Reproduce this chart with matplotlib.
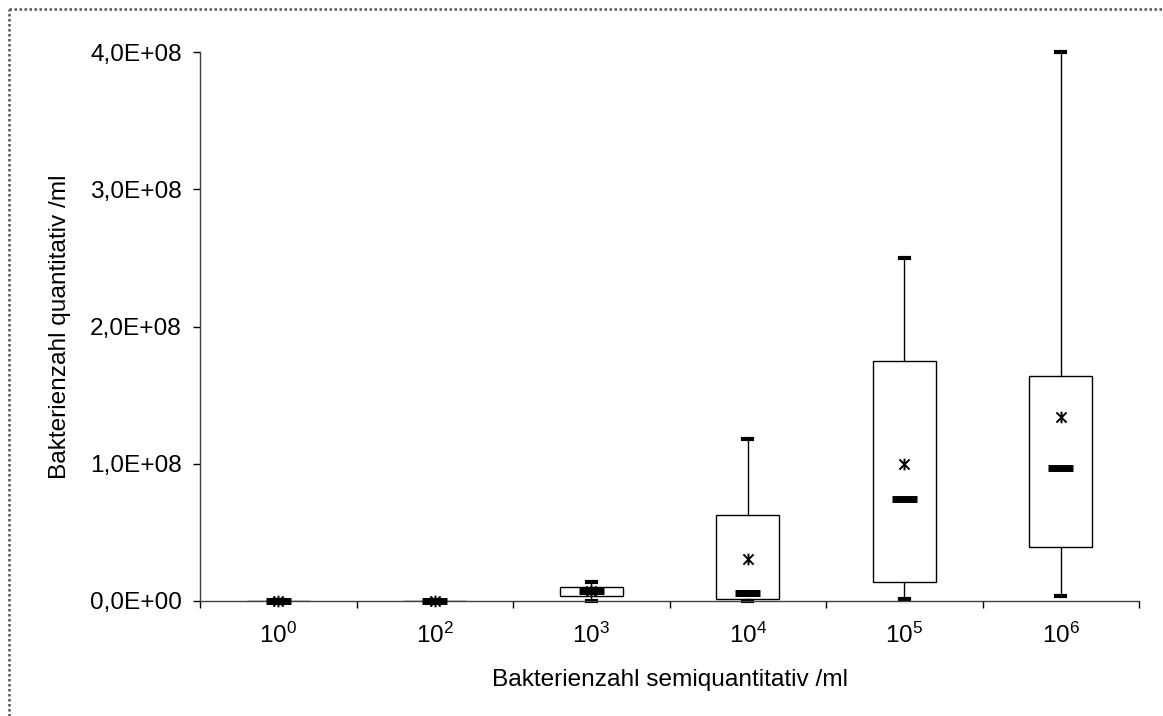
import matplotlib
matplotlib.use("Agg")
import matplotlib.pyplot as plt
from matplotlib.lines import Line2D
from matplotlib.path import Path
from matplotlib.ticker import FuncFormatter, FixedLocator

plt.rcParams["font.family"] = ["Liberation Sans", "DejaVu Sans"]
plt.rcParams["mathtext.fontset"] = "custom"
plt.rcParams["mathtext.rm"] = "Liberation Sans"
plt.rcParams["mathtext.it"] = "Liberation Sans:italic"

# data (Bakterien /ml)
exponents = [0, 2, 3, 4, 5, 6]
whisk_lo = [0, 0, 0, 0, 1.5e6, 3.6e6]
q1 = [0, 0, 3.6e6, 1.5e6, 1.4e7, 3.9e7]
median = [0, 0, 7.3e6, 5.5e6, 7.4e7, 9.7e7]
q3 = [2e5, 2e5, 1.0e7, 6.3e7, 1.75e8, 1.64e8]
whisk_hi = [4e5, 4e5, 1.38e7, 1.18e8, 2.5e8, 4.0e8]
mean = [1e5, 1e5, 7e6, 3.06e7, 1.0e8, 1.34e8]

FS = 17.6

# Excel-like star marker: x plus a short vertical stroke
star = Path(
    [(0, -0.8), (0, 0.8), (-0.7, -0.7), (0.7, 0.7), (-0.7, 0.7), (0.7, -0.7)],
    [Path.MOVETO, Path.LINETO] * 3,
)

fig = plt.figure(figsize=(11.63, 7.16), dpi=100)
ax = fig.add_axes([200 / 1163, 1 - 601 / 716, 939 / 1163, 549 / 716])

positions = list(range(1, len(exponents) + 1))
stats = [
    dict(whislo=a, q1=b, med=c, q3=d, whishi=e, mean=m, fliers=[])
    for a, b, c, d, e, m in zip(whisk_lo, q1, median, q3, whisk_hi, mean)
]

ax.bxp(
    stats, positions=positions, widths=0.4, showmeans=False, showfliers=False,
    patch_artist=True, capwidths=0.06,
    boxprops=dict(facecolor="white", edgecolor="black", linewidth=1.0),
    whiskerprops=dict(color="black", linewidth=1.0),
    capprops=dict(color="black", linewidth=3.0, clip_on=False),
    medianprops=dict(linewidth=0),
)

# thick median bars and star means
ax.hlines(median, [p - 0.08 for p in positions], [p + 0.08 for p in positions],
          colors="black", linewidth=5, zorder=4, clip_on=False)
ax.scatter(positions, mean, marker=star, s=70, c="black",
           linewidths=1.4, zorder=5, clip_on=False)

ax.set_xlim(0.5, len(exponents) + 0.5)
ax.set_ylim(0, 4e8)
ax.set_yticks([0, 1e8, 2e8, 3e8, 4e8])
ax.yaxis.set_major_formatter(FuncFormatter(lambda v, _: f"{v:.1E}".replace(".", ",")))

ax.xaxis.set_major_locator(FixedLocator([p - 0.5 for p in positions] + [len(positions) + 0.5]))
ax.xaxis.set_major_formatter(FuncFormatter(lambda v, _: ""))
ax.xaxis.set_minor_locator(FixedLocator(positions))
ax.set_xticklabels([rf"$\mathregular{{10^{{{e}}}}}$" for e in exponents], minor=True)
ax.tick_params(axis="x", which="minor", length=0, pad=15.5, labelsize=FS)
ax.tick_params(axis="x", which="major", length=5, width=1, direction="out")
ax.tick_params(axis="y", length=5, width=1, pad=8, labelsize=FS)

for side in ("top", "right"):
    ax.spines[side].set_visible(False)
for side in ("left", "bottom"):
    ax.spines[side].set_color("#404040")
    ax.spines[side].set_linewidth(1.0)

ax.set_xlabel("Bakterienzahl semiquantitativ /ml", fontsize=FS, labelpad=15)
ax.set_ylabel("Bakterienzahl quantitativ /ml", fontsize=FS, labelpad=14)

# dotted frame visible at top and left edge of the original
fig.add_artist(Line2D([8.5 / 1163, 8.5 / 1163], [0, 1 - 9 / 716], transform=fig.transFigure,
                      color="#555555", linewidth=1.8, linestyle=(0, (1, 1))))
fig.add_artist(Line2D([8.5 / 1163, 1], [1 - 9 / 716, 1 - 9 / 716], transform=fig.transFigure,
                      color="#555555", linewidth=1.8, linestyle=(0, (1, 1))))

fig.savefig("out.png", dpi=100, facecolor="white")
